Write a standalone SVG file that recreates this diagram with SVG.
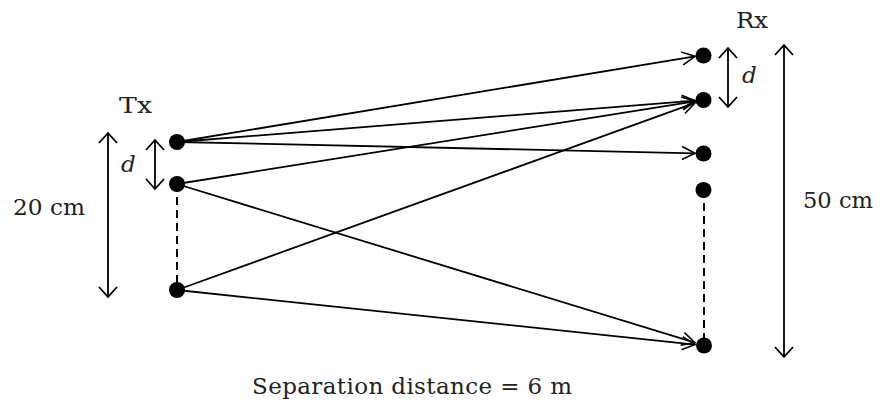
<svg xmlns="http://www.w3.org/2000/svg" width="880" height="407" viewBox="0 0 880 407">
<style>
text{font-family:"DejaVu Serif","Liberation Serif",serif;fill:#222;font-size:23px}
.it{font-style:italic}
.conn{stroke:#000;stroke-width:1.8;fill:none;marker-end:url(#ah)}
.dim{stroke:#000;stroke-width:1.8;fill:none;marker-start:url(#dh);marker-end:url(#dh)}
.dash{stroke:#000;stroke-width:2;stroke-dasharray:8 5;fill:none}
.dot{fill:#000}
</style>
<defs>
<marker id="ah" markerUnits="userSpaceOnUse" markerWidth="16" markerHeight="16" refX="14" refY="7" orient="auto" overflow="visible">
<path d="M1,0.5 L14,7 L1,13.5" fill="none" stroke="#000" stroke-width="1.6"/>
</marker>
<marker id="dh" markerUnits="userSpaceOnUse" markerWidth="14" markerHeight="22" refX="11" refY="10" orient="auto-start-reverse" overflow="visible">
<path d="M1,1 L11,10 L1,19" fill="none" stroke="#000" stroke-width="1.8"/>
</marker>
</defs>
<g id="connectors">
<line class="conn" x1="177" y1="142" x2="695" y2="56.3"/>
<line class="conn" x1="177" y1="142" x2="695" y2="100.6"/>
<line class="conn" x1="177" y1="142" x2="695" y2="153.3"/>
<line class="conn" x1="177" y1="184" x2="695" y2="101.3"/>
<line class="conn" x1="177" y1="184" x2="695" y2="342.7"/>
<line class="conn" x1="177" y1="290" x2="695" y2="102.9"/>
<line class="conn" x1="177" y1="290" x2="695" y2="344.6"/>
<line class="dash" x1="177" y1="184" x2="177" y2="290"/>
<line class="dash" x1="704" y1="190" x2="704" y2="345"/>
</g>
<g id="dimensions">
<line class="dim" x1="108" y1="133" x2="108" y2="297"/>
<line class="dim" x1="155" y1="140" x2="155" y2="189"/>
<line class="dim" x1="728" y1="48" x2="728" y2="107"/>
<line class="dim" x1="784" y1="45" x2="784" y2="357"/>
</g>
<g id="tx">
<circle id="T1" class="dot" cx="177" cy="142" r="8"/>
<circle id="T2" class="dot" cx="177" cy="184" r="8"/>
<circle id="T3" class="dot" cx="177" cy="290" r="8"/>
</g>
<g id="rx">
<circle id="R1" class="dot" cx="703.5" cy="55.5" r="8"/>
<circle id="R2" class="dot" cx="703.5" cy="100" r="8"/>
<circle id="R3" class="dot" cx="703.5" cy="153.5" r="8"/>
<circle id="R4" class="dot" cx="703.5" cy="190" r="8"/>
<circle id="R5" class="dot" cx="704" cy="345.5" r="8"/>
</g>
<g id="labels">
<text x="119" y="113" textLength="33" lengthAdjust="spacingAndGlyphs">Tx</text>
<text x="736" y="28" textLength="32" lengthAdjust="spacingAndGlyphs">Rx</text>
<text class="it" x="121" y="172">d</text>
<text class="it" x="742" y="83">d</text>
<text x="13" y="215" textLength="72" lengthAdjust="spacingAndGlyphs">20 cm</text>
<text x="803" y="208" textLength="70" lengthAdjust="spacingAndGlyphs">50 cm</text>
<text x="252" y="394" textLength="320">Separation distance = 6 m</text>
</g>
</svg>
